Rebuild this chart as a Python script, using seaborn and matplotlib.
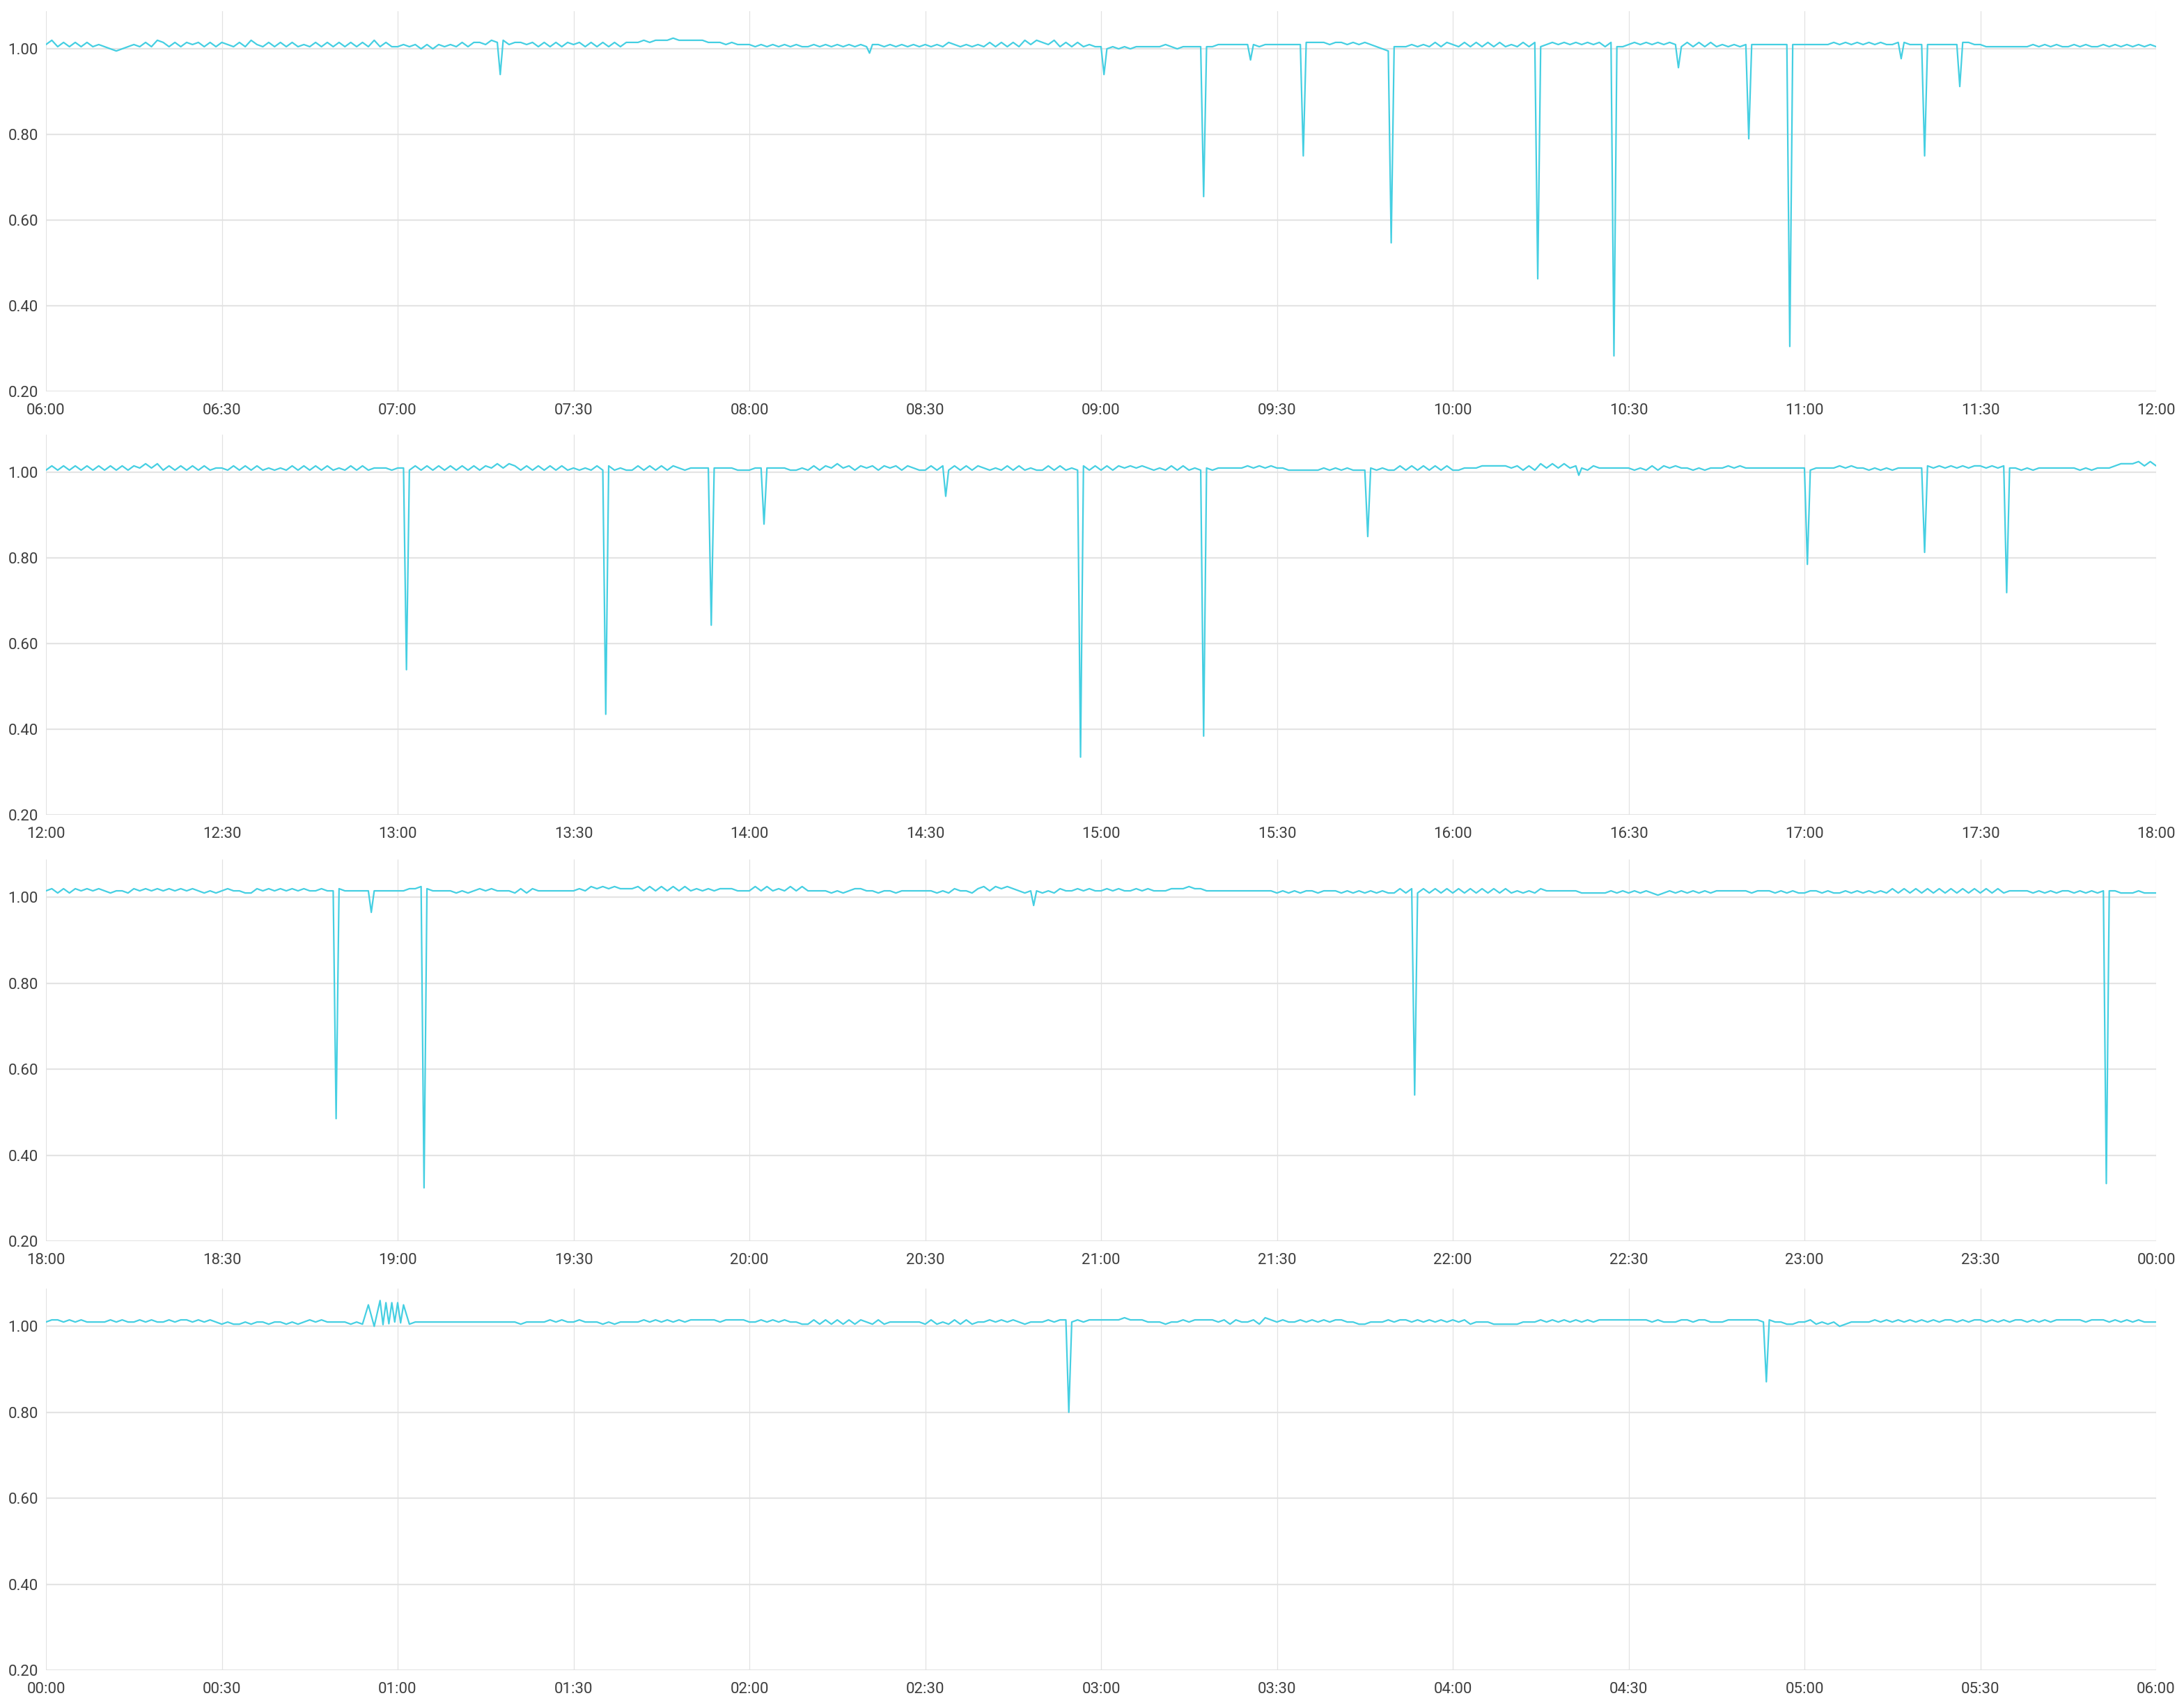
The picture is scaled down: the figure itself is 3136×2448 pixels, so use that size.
import numpy as np
import pandas as pd
import matplotlib
matplotlib.use("Agg")
import matplotlib.pyplot as plt
import seaborn as sns

# ---------------- data ----------------
# Each panel covers 6 hours. Baseline readings are per minute, one hex digit each:
# value = 0.99 + digit * 0.005   (so '2' = 1.000, '4' = 1.010, 'e' = 1.060)
panel_start_hours = [6, 12, 18, 0]

baseline_p1 = [
    "4635353534 3212343536 5353545353 5435364353 5353435353 5353536353",
    "3434242434 3535546564 5545353535 4535353535 5565666766 6665554544",
    "4343434343 3434343434 3443434343 4343543434 3535353646 5463535343",
    "3232323333 3432333333 4444444344 4444455554 5545454321 3334343535",
    "4353535353 4353534545 4545453533 4545454543 5353534343 4444444444",
    "4444454545 4545445544 4444444554 4333333334 3434334343 34343434343",
]
baseline_p2 = [
    "3535353535 3535354646 3535353534 4353535343 4353535353 4353534443",
    "4435353535 3535354646 5353535353 4343535343 3535353543 4444444433",
    "3444444334 3535464535 4535453543 3535353535 4343535343 3535343535",
    "3535454543 4353534343 4444454545 4433333343 4343334343 3535353535",
    "3344455555 4535364646 4543544444 4343535454 4343444545 4444444444",
    "4344445454 4343434444 4545454545 5454544343 4444444343 44456667575",
]
baseline_p3 = [
    "5646465656 5455465656 5656565454 5655446565 6565655655 6555555555",
    "5566765555 4545656555 4646555555 5657676766 6757575757 5656566655",
    "5757565757 5555454566 5545545555 5545465546 7576765455 4546556565",
    "5656556565 5566676655 5555555555 4545455455 5454545454 4646464646",
    "4646464646 4545465555 5544444545 4545434545 4545455555 5455545454",
    "4554544545 4545464646 4646464646 4646455554 5454554545 45554445444",
]
baseline_p4 = [
    "4554545444 4545445454 4545545454 3433434434 4343454544 44343c2edd",
    "dc34444444 4444444444 4344445454 4544434344 4454545454 5555545555",
    "4454545443 3535353535 4353444444 3534353534 4545454344 4545545455",
    "5555655544 4344545555 4535445365 4544545454 5544334445 4554545454",
    "5453444333 3344454545 4545455555 5555454445 5455444555 5554544334",
    "4534342344 4454545454 5454554545 5454545545 4545555545 55454545444",
]

# Short drops (minutes after panel start, value)
events_p1_t = [77.5, 140.5, 180.5, 197.5, 205.5, 214.5, 229.5, 254.5, 267.5,
               278.5, 290.5, 297.5, 316.5, 320.5, 326.5]
events_p1_v = [0.94, 0.99, 0.94, 0.655, 0.974, 0.75, 0.547, 0.463, 0.283,
               0.956, 0.79, 0.305, 0.977, 0.75, 0.912]
events_p2_t = [61.5, 95.5, 113.5, 122.5, 153.5, 176.5, 197.5, 225.5, 261.5,
               300.5, 320.5, 334.5]
events_p2_v = [0.539, 0.435, 0.643, 0.879, 0.944, 0.335, 0.384, 0.85, 0.993,
               0.785, 0.813, 0.719]
events_p3_t = [49.5, 55.5, 64.5, 168.5, 233.5, 351.5]
events_p3_v = [0.485, 0.965, 0.324, 0.981, 0.54, 0.334]
events_p4_t = [57.5, 58.5, 59.5, 60.5, 174.5, 293.5]
events_p4_v = [1.004, 1.006, 1.010, 1.008, 0.80, 0.871]

y_ticks = [0.20, 0.40, 0.60, 0.80, 1.00]
y_tick_labels = ["0.20", "0.40", "0.60", "0.80", "1.00"]

baselines = [baseline_p1, baseline_p2, baseline_p3, baseline_p4]
events_t = [events_p1_t, events_p2_t, events_p3_t, events_p4_t]
events_v = [events_p1_v, events_p2_v, events_p3_v, events_p4_v]


def build_panel(hours, ev_t, ev_v):
    ts, vs = [], []
    for h, s in enumerate(hours):
        s = s.replace(" ", "")
        for i, c in enumerate(s):
            ts.append(h * 60 + i)
            vs.append(0.99 + int(c, 16) * 0.005)
    ts += list(ev_t)
    vs += list(ev_v)
    df = pd.DataFrame({"minute": ts, "value": vs}).sort_values("minute")
    return df


# ---------------- style ----------------
sns.set_theme(style="white")
plt.rcParams["font.family"] = ["Roboto", "DejaVu Sans"]

LINE = "#45cfe2"
GRID_H = "#e4e4e4"
GRID_V = "#e2e2e2"
TEXT = "#3f3f3f"

fig = plt.figure(figsize=(15.68, 12.24), dpi=200)
W, H = 3136, 2448
left_px, right_px = 66, 3096
panel_px = [(16, 562), (624, 1170), (1234, 1782), (1850, 2398)]

for k in range(4):
    top, bot = panel_px[k]
    ax = fig.add_axes([left_px / W, 1 - bot / H, (right_px - left_px) / W, (bot - top) / H])
    df = build_panel(baselines[k], events_t[k], events_v[k])
    sns.lineplot(data=df, x="minute", y="value", ax=ax, color=LINE,
                 linewidth=0.8, estimator=None, sort=True)
    ax.set_xlim(0, 360)
    ax.set_ylim(0.2, 1.088)
    xt = list(range(0, 361, 30))
    start = panel_start_hours[k]
    ax.set_xticks(xt)
    ax.set_xticklabels([f"{(start + m // 60) % 24:02d}:{m % 60:02d}" for m in xt])
    ax.set_yticks(y_ticks)
    ax.set_yticklabels(y_tick_labels)
    ax.set_xlabel("")
    ax.set_ylabel("")
    for sp in ax.spines.values():
        sp.set_visible(False)
    ax.tick_params(axis="both", length=0, labelsize=8, colors=TEXT)
    ax.tick_params(axis="y", pad=4)
    ax.tick_params(axis="x", pad=6)
    ax.grid(False)
    for y in y_ticks:
        ax.axhline(y, color=GRID_H, linewidth=0.8, zorder=0)
    for x in xt:
        ax.axvline(x, color=GRID_V, linewidth=0.45, zorder=0)
    ax.set_facecolor("white")

fig.savefig("out.png", dpi=200, facecolor="white")
